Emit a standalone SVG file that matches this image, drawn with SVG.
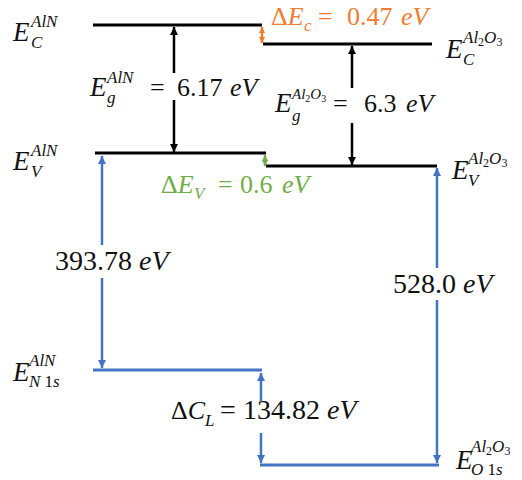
<svg xmlns="http://www.w3.org/2000/svg" width="522" height="480" viewBox="0 0 522 480">
<style>
.t{font-family:"Liberation Serif","DejaVu Serif",serif;fill:#111}
.i{font-style:italic}
.n{font-style:normal}
.E{font-size:27px}
.s{font-size:17px}
.xs{font-size:12px}
.s2{font-size:15px}
.xs2{font-size:10px}
.g{font-size:26px}
.c{font-size:28px}
.lk{stroke:#000;stroke-width:3;fill:none}
.lb{stroke:#4472C4;stroke-width:3;fill:none}
.ak{stroke:#000;stroke-width:2.5;fill:none}
.ab{stroke:#4472C4;stroke-width:2.5;fill:none}
.ao{stroke:#ED7D31;stroke-width:2.5;fill:none}
.ag{stroke:#70AD47;stroke-width:2.5;fill:none}
.or{fill:#ED7D31}
.gr{fill:#70AD47}
</style>
<defs>
<marker id="hk" viewBox="0 0 10 10" refX="10" refY="5" markerWidth="9" markerHeight="8" markerUnits="userSpaceOnUse" orient="auto-start-reverse"><path d="M0,0L10,5L0,10z" fill="#000"/></marker>
<marker id="hb" viewBox="0 0 10 10" refX="10" refY="5" markerWidth="9" markerHeight="8" markerUnits="userSpaceOnUse" orient="auto-start-reverse"><path d="M0,0L10,5L0,10z" fill="#4472C4"/></marker>
<marker id="ho" viewBox="0 0 10 10" refX="10" refY="5" markerWidth="6" markerHeight="7" markerUnits="userSpaceOnUse" orient="auto-start-reverse"><path d="M0,0L10,5L0,10z" fill="#ED7D31"/></marker>
<marker id="hg" viewBox="0 0 10 10" refX="10" refY="5" markerWidth="6" markerHeight="7" markerUnits="userSpaceOnUse" orient="auto-start-reverse"><path d="M0,0L10,5L0,10z" fill="#70AD47"/></marker>
</defs>

<g id="aln-cb">
<line class="lk" x1="93" y1="25" x2="262" y2="25"/>
<text class="t i E" x="13" y="41">E</text>
<text class="t i s" x="31" y="27">AlN</text>
<text class="t i s" x="31" y="48">C</text>
</g>
<g id="al2o3-cb">
<line class="lk" x1="263" y1="44" x2="432" y2="44"/>
<text class="t i E" x="446" y="58">E</text>
<text class="t i s" x="463" y="43">Al<tspan class="xs n" dy="3">2</tspan><tspan dy="-3">O</tspan><tspan class="xs n" dy="3">3</tspan></text>
<text class="t i s" x="463" y="65">C</text>
</g>
<g id="aln-vb">
<line class="lk" x1="95" y1="153" x2="266" y2="153"/>
<text class="t i E" x="13" y="170">E</text>
<text class="t i s" x="31" y="156">AlN</text>
<text class="t i s" x="31" y="177">V</text>
</g>
<g id="al2o3-vb">
<line class="lk" x1="266" y1="166" x2="437" y2="166"/>
<text class="t i E" x="452" y="179">E</text>
<text class="t i s" x="468" y="164">Al<tspan class="xs n" dy="3">2</tspan><tspan dy="-3">O</tspan><tspan class="xs n" dy="3">3</tspan></text>
<text class="t i s" x="468" y="186">V</text>
</g>
<g id="aln-n1s">
<line class="lb" x1="93" y1="370" x2="262" y2="370"/>
<text class="t i E" x="13" y="381">E</text>
<text class="t i s" x="29" y="366">AlN</text>
<text class="t i s" x="29" y="387">N <tspan class="n">1</tspan>s</text>
</g>
<g id="al2o3-o1s">
<line class="lb" x1="260" y1="465" x2="439" y2="465"/>
<text class="t i E" x="456" y="469">E</text>
<text class="t i s" x="471" y="452">Al<tspan class="xs n" dy="3">2</tspan><tspan dy="-3">O</tspan><tspan class="xs n" dy="3">3</tspan></text>
<text class="t i s" x="471" y="475">O <tspan class="n">1</tspan>s</text>
</g>

<g id="connectors">
<line class="ak" x1="174" y1="73" x2="174" y2="27" marker-end="url(#hk)"/>
<line class="ak" x1="174" y1="100" x2="174" y2="152" marker-end="url(#hk)"/>
<line class="ak" x1="352" y1="88" x2="352" y2="46" marker-end="url(#hk)"/>
<line class="ak" x1="352" y1="123" x2="352" y2="165" marker-end="url(#hk)"/>
<line class="ao" x1="262" y1="27" x2="262" y2="43" marker-start="url(#ho)" marker-end="url(#ho)"/>
<line class="ag" x1="265" y1="155" x2="265" y2="166" marker-start="url(#hg)" marker-end="url(#hg)"/>
<line class="ab" x1="102" y1="245" x2="102" y2="156" marker-end="url(#hb)"/>
<line class="ab" x1="102" y1="278" x2="102" y2="368" marker-end="url(#hb)"/>
<line class="ab" x1="437" y1="268" x2="437" y2="168" marker-end="url(#hb)"/>
<line class="ab" x1="437" y1="300" x2="437" y2="463" marker-end="url(#hb)"/>
<line class="ab" x1="261" y1="401" x2="261" y2="373" marker-end="url(#hb)"/>
<line class="ab" x1="261" y1="433" x2="261" y2="463" marker-end="url(#hb)"/>
</g>

<g id="label-eg-aln">
<text class="t i E" x="90" y="96">E</text>
<text class="t i s" x="107" y="83">AlN</text>
<text class="t i s" x="107" y="103">g</text>
<text class="t g" x="150" y="96">=</text>
<text class="t g" x="177" y="96">6.17</text>
<text class="t i g" x="230" y="96">eV</text>
</g>
<g id="label-eg-al2o3">
<text class="t i E" x="275" y="112">E</text>
<text class="t i s2" x="292" y="99">Al<tspan class="xs2 n" dy="3">2</tspan><tspan dy="-3">O</tspan><tspan class="xs2 n" dy="3">3</tspan></text>
<text class="t i s" x="292" y="121">g</text>
<text class="t g" x="333" y="112">=</text>
<text class="t g" x="364" y="112">6.3</text>
<text class="t i g" x="406" y="112">eV</text>
</g>
<g id="label-dec">
<text class="t g or" x="271" y="25">Δ<tspan class="i">E</tspan></text>
<text class="t i s or" x="304" y="31">c</text>
<text class="t g or" x="318" y="25">=</text>
<text class="t g or" x="347" y="25">0.47</text>
<text class="t i g or" x="401" y="25">eV</text>
</g>
<g id="label-dev">
<text class="t g gr" x="161" y="193">Δ<tspan class="i">E</tspan></text>
<text class="t i s gr" x="194" y="199">V</text>
<text class="t g gr" x="218" y="193">=</text>
<text class="t g gr" x="240" y="193">0.6</text>
<text class="t i g gr" x="282" y="193">eV</text>
</g>
<g id="label-393">
<text class="t c" x="55" y="270">393.78 <tspan class="i">eV</tspan></text>
</g>
<g id="label-528">
<text class="t c" x="393" y="293">528.0 <tspan class="i">eV</tspan></text>
</g>
<g id="label-dcl">
<text class="t g" x="171" y="419">Δ<tspan class="i">C</tspan></text>
<text class="t i s" x="205" y="426">L</text>
<text class="t c" x="220" y="419">=</text>
<text class="t c" x="243" y="419">134.82 <tspan class="i">eV</tspan></text>
</g>
</svg>
